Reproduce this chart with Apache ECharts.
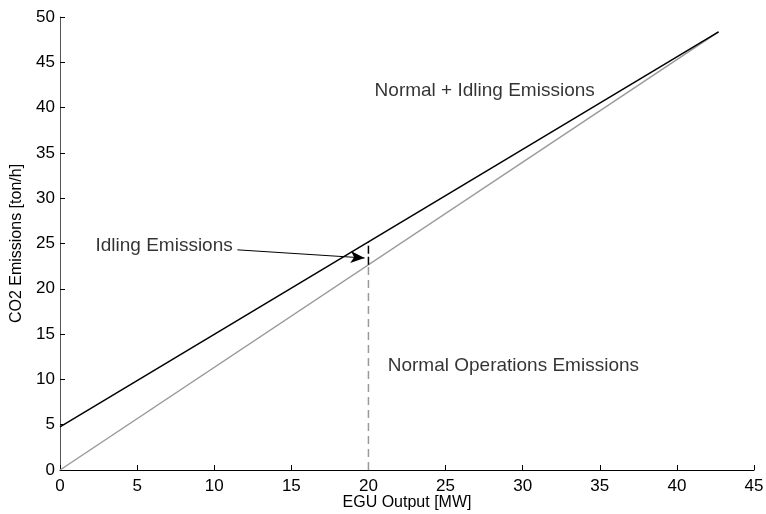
<!DOCTYPE html>
<html>
<head>
<meta charset="utf-8">
<script src="https://cdn.jsdelivr.net/npm/echarts@6/dist/echarts.min.js"></script>
<style>
  html, body { margin: 0; padding: 0; background: #fff; }
  #chart { width: 766px; height: 514px; }
</style>
</head>
<body>
<div id="chart"></div>
<script>
// endpoints of the two emission lines [x, y]
const totalLine = [[0, 4.75], [42.7, 48.35]];
const normalLine = [[0, 0], [42.7, 48.35]];
// vertical marker at 20 MW
const normalDrop = [[20, 0], [20, 22.65]];
const idlingGap = [[20, 22.65], [20, 25.15]];
// arrow from label to gap
const arrowFrom = [11.5, 24.3];
const arrowTo = [19.75, 23.4];
// text labels [x, y, text]
const labels = [
  [20.4, 41.9, 'Normal + Idling Emissions'],
  [21.25, 11.5, 'Normal Operations Emissions'],
  [2.3, 24.8, 'Idling Emissions']
];

let chart = echarts.init(document.getElementById('chart'));
let font = 'Liberation Sans, Arial, sans-serif';

let option = {
  animation: false,
  grid: { left: 60, right: 12, top: 17, bottom: 44, containLabel: false, outerBoundsMode: 'none' },
  xAxis: {
    type: 'value', min: 0, max: 45, interval: 5,
    name: 'EGU Output [MW]', nameLocation: 'middle', nameGap: 25, nameMoveOverlap: false,
    nameTextStyle: { color: '#000', fontSize: 16, fontFamily: font },
    axisLine: { lineStyle: { color: '#000', width: 1 } },
    axisTick: { inside: true, length: 5, lineStyle: { color: '#000' } },
    axisLabel: { color: '#000', fontSize: 17, fontFamily: font, margin: 8 },
    splitLine: { show: false }
  },
  yAxis: {
    type: 'value', min: 0, max: 50, interval: 5,
    name: 'CO2 Emissions [ton/h]', nameLocation: 'middle', nameGap: 35,
    nameTextStyle: { color: '#000', fontSize: 16, fontFamily: font },
    axisLine: { show: true, lineStyle: { color: '#555', width: 1 } },
    axisTick: { show: true, inside: true, length: 5, lineStyle: { color: '#000' } },
    axisLabel: { color: '#000', fontSize: 17, fontFamily: font, margin: 5 },
    splitLine: { show: false }
  },
  series: [
    {
      type: 'line', data: normalLine, symbol: 'none',
      lineStyle: { color: '#999', width: 1.5 }
    },
    {
      type: 'line', data: totalLine, symbol: 'none',
      lineStyle: { color: '#000', width: 1.5 }
    },
    {
      type: 'line', data: normalDrop, symbol: 'none',
      lineStyle: { color: '#999', width: 1.5, type: [8, 5] }
    },
    {
      type: 'line', data: idlingGap, symbol: 'none',
      lineStyle: { color: '#000', width: 1.5, type: [8, 3] },
      markLine: {
        silent: true, symbol: ['none', 'arrow'], symbolSize: [9, 14],
        label: { show: false },
        lineStyle: { color: '#000', width: 1, type: 'solid' },
        data: [[{ coord: arrowFrom }, { coord: arrowTo }]]
      }
    },
    {
      type: 'scatter', symbolSize: 0,
      data: labels.map(d => ({ value: [d[0], d[1]], name: d[2] })),
      label: {
        show: true, position: 'right', distance: 0,
        formatter: p => p.name,
        color: '#000', fontSize: 19, fontFamily: font
      }
    }
  ]
};

option && chart.setOption(option);
</script>
</body>
</html>
